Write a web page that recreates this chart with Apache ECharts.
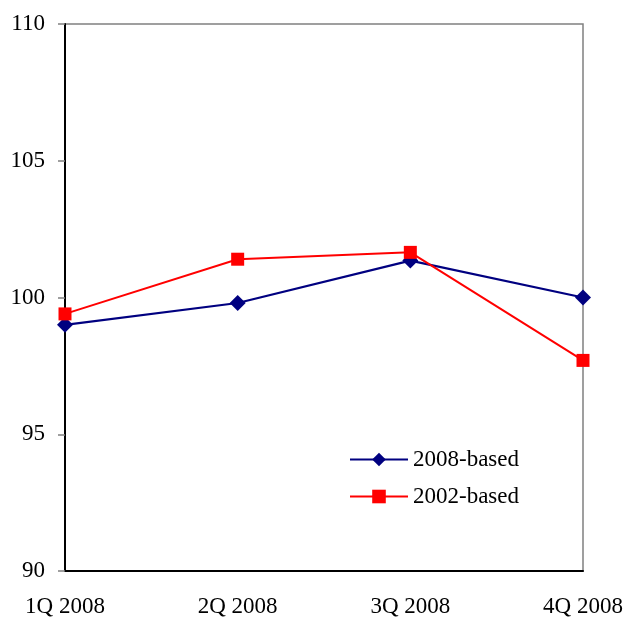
<!DOCTYPE html>
<html><head><meta charset="utf-8">
<script src="https://cdn.jsdelivr.net/npm/echarts@6/dist/echarts.min.js"></script>
<style>html,body{margin:0;padding:0;background:#fff}#c{width:627px;height:618px}</style>
</head><body><div id="c"></div>
<script>
var categories = ['1Q 2008', '2Q 2008', '3Q 2008', '4Q 2008'];
var based2008 = [99.0, 99.8, 101.35, 100.0];
var based2002 = [99.4, 101.4, 101.65, 97.7];
var yTicks = { min: 90, max: 110, interval: 5 };

var chart = echarts.init(document.getElementById('c'));
var font = 'Liberation Serif';
chart.setOption({
  animation: false,
  textStyle: { fontFamily: font },
  grid: { left: 65, right: 44, top: 24, bottom: 47, show: true, borderColor: '#808080', borderWidth: 1.5 },
  legend: {
    orient: 'vertical', left: 344, top: 443, itemWidth: 58, itemHeight: 17, itemGap: 14,
    textStyle: { fontFamily: font, fontSize: 23, color: '#000' },
    data: [{ name: '2008-based' }, { name: '2002-based' }]
  },
  xAxis: {
    type: 'category', data: categories, boundaryGap: false,
    axisLine: { lineStyle: { color: '#000', width: 2 } },
    axisTick: { show: false },
    axisLabel: { color: '#000', fontSize: 23, fontFamily: font, margin: 24 },
    splitLine: { show: false }
  },
  yAxis: {
    type: 'value', min: yTicks.min, max: yTicks.max, interval: yTicks.interval,
    axisLine: { show: true, lineStyle: { color: '#000', width: 2 } },
    axisTick: { show: true, length: 7, lineStyle: { color: '#808080', width: 1.5 } },
    axisLabel: { color: '#000', fontSize: 23, fontFamily: font, margin: 20 },
    splitLine: { show: false }
  },
  series: [
    { name: '2008-based', type: 'line', data: based2008, symbol: 'diamond', symbolSize: 16,
      lineStyle: { color: '#000080', width: 2.2 }, itemStyle: { color: '#000080' } },
    { name: '2002-based', type: 'line', data: based2002, symbol: 'rect', symbolSize: 13,
      lineStyle: { color: '#ff0000', width: 2 }, itemStyle: { color: '#ff0000' } }
  ]
});
</script></body></html>
